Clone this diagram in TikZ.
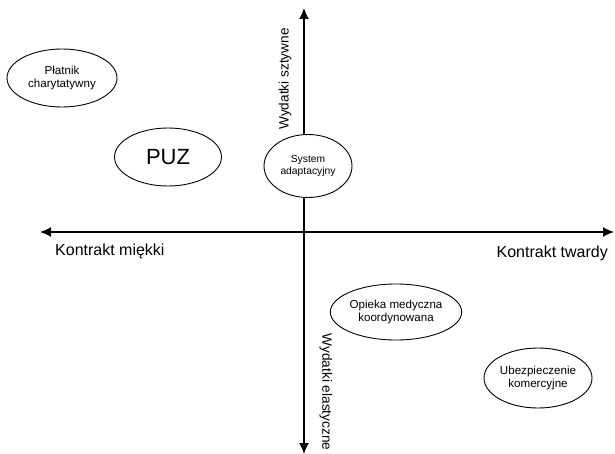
\documentclass[tikz,border=0pt]{standalone}
\usepackage{fontspec}
\setmainfont{Liberation Sans}
\usetikzlibrary{arrows.meta,shapes.geometric}
\begin{document}
\begin{tikzpicture}[x=1pt,y=-1pt,
  oval/.style={draw,line width=0.9pt,ellipse,align=center,font=\fontsize{11.6}{13.5}\selectfont,inner sep=0pt},
  axis/.style={line width=1.4pt,-{Latex[length=11pt,width=10pt]}},
  axlabel/.style={font=\fontsize{16}{18}\selectfont,inner sep=0pt},
  vlabel/.style={font=\fontsize{13.6}{16}\selectfont,inner sep=0pt}]
\useasboundingbox (0,0) rectangle (615,454);
\coordinate (L) at (40,232);
\coordinate (R) at (614,232);
\coordinate (T) at (304,8);
\coordinate (B) at (304,454);
\coordinate (O) at (304,232);
\draw[axis] (O) -- (L);
\draw[axis] (O) -- (R);
\draw[axis] (O) -- (T);
\draw[axis] (O) -- (B);
\node[axlabel,anchor=west] (km) at (55,251) {Kontrakt miękki};
\node[axlabel,anchor=east] (kt) at (608,253) {Kontrakt twardy};
\node[vlabel,rotate=90] (ws) at (285,79) {Wydatki sztywne};
\node[vlabel,rotate=-90] (we) at (326,392) {Wydatki elastyczne};
\node[oval,minimum width=110pt,minimum height=58pt] (pc) at (62,78) {Płatnik\\charytatywny};
\node[oval,minimum width=107pt,minimum height=58pt,font=\fontsize{22}{24}\selectfont] (puz) at (168,157) {PUZ};
\node[oval,minimum width=88pt,minimum height=63pt,fill=white,font=\fontsize{10.3}{12.5}\selectfont] (sa) at (308,166) {System\\adaptacyjny};
\node[oval,minimum width=118pt,minimum height=56pt] (om) at (396,312) {Opieka medyczna\\koordynowana};
\node[oval,minimum width=108pt,minimum height=60pt] (uk) at (538,378) {Ubezpieczenie\\komercyjne};
\end{tikzpicture}
\end{document}
